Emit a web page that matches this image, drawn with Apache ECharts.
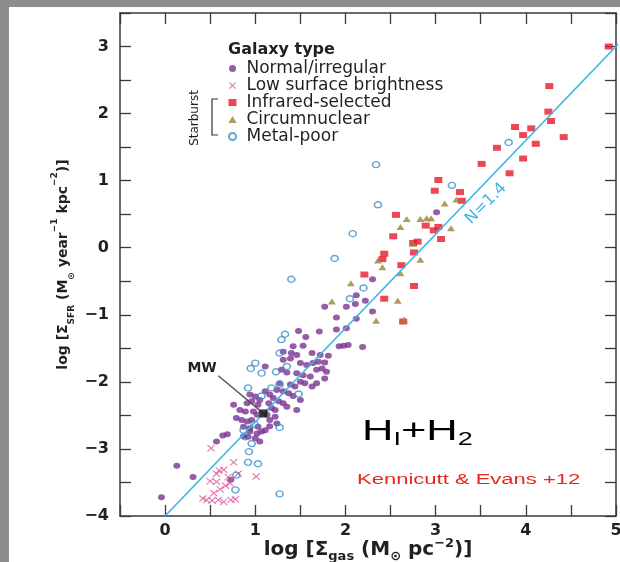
<!DOCTYPE html>
<html><head><meta charset="utf-8">
<script src="https://cdn.jsdelivr.net/npm/echarts@6/dist/echarts.min.js"></script>
<style>
html,body{margin:0;padding:0;width:620px;height:562px;overflow:hidden;background:#8d8d8d;}
#chart{position:absolute;left:9px;top:7px;width:611px;height:555px;background:#fff;}
</style></head><body><div id="chart"></div>
<script>
// ---- data (log Σgas, log ΣSFR) ----
const xTickLabels = ['0','1','2','3','4','5'];
const yTickLabels = ['\u22124','\u22123','\u22122','\u22121','0','1','2','3'];
const normal = [
[-0.04,-3.72],[0.13,-3.25],[0.31,-3.42],[0.57,-2.89],[0.64,-2.80],[0.69,-2.78],[0.73,-3.46],
[1.48,-1.24],[1.56,-1.33],[1.71,-1.25],[1.90,-1.22],[2.01,-1.20],[1.93,-1.47],[1.98,-1.46],[2.03,-1.45],
[1.53,-1.46],[1.42,-1.47],[1.31,-1.55],[1.40,-1.57],[1.46,-1.60],[1.63,-1.57],[1.72,-1.60],[1.81,-1.61],
[1.31,-1.67],[1.39,-1.65],[1.50,-1.72],[1.57,-1.75],[1.64,-1.72],[1.70,-1.70],[1.77,-1.71],[1.68,-1.82],
[1.74,-1.80],[1.79,-1.85],[1.11,-1.77],[1.29,-1.82],[1.35,-1.86],[1.46,-1.87],[1.53,-1.90],[1.61,-1.92],
[1.77,-1.95],[1.50,-2.00],[1.55,-2.02],[1.63,-2.07],[1.39,-2.04],[1.44,-2.07],[1.27,-2.02],[1.24,-2.12],
[1.31,-2.14],[1.37,-2.17],[1.42,-2.21],[1.50,-2.27],[1.11,-2.14],[1.16,-2.19],[1.20,-2.24],[1.26,-2.29],
[1.31,-2.32],[1.35,-2.37],[1.46,-2.42],[0.94,-2.19],[1.00,-2.22],[1.05,-2.27],[0.91,-2.32],[0.96,-2.29],
[1.03,-2.34],[1.15,-2.32],[1.18,-2.39],[1.22,-2.42],[0.76,-2.34],[0.83,-2.42],[0.89,-2.44],[0.98,-2.44],
[1.02,-2.49],[0.79,-2.54],[0.85,-2.57],[0.91,-2.59],[0.96,-2.57],[1.13,-2.49],[1.16,-2.57],[1.22,-2.52],
[1.24,-2.62],[1.16,-2.66],[0.87,-2.67],[0.94,-2.69],[1.03,-2.67],[0.94,-2.74],[1.02,-2.77],[1.07,-2.74],
[1.11,-2.72],[1.00,-2.84],[1.05,-2.89],[0.87,-2.81],[0.92,-2.82],[1.68,-2.02],[2.19,-1.48],
[3.01,0.53],[2.30,-0.47],[2.12,-0.71],[2.22,-0.79],[1.77,-0.88],[2.01,-0.88],[2.11,-0.84],[2.30,-0.95],
[1.90,-1.04],[2.12,-1.06]
];
const lowSurface = [
[0.51,-2.99],[0.76,-3.20],[0.60,-3.32],[0.65,-3.31],[0.57,-3.37],[0.81,-3.37],[1.01,-3.41],[0.57,-3.49],
[0.67,-3.55],[0.72,-3.51],[0.61,-3.60],[0.54,-3.66],[0.42,-3.74],[0.46,-3.76],[0.52,-3.77],[0.59,-3.76],
[0.65,-3.79],[0.73,-3.76],[0.78,-3.75],[0.50,-3.48],[0.70,-3.42]
];
const infrared = [
[4.92,3.0],[4.26,2.41],[4.25,2.03],[4.28,1.89],[4.42,1.65],[3.88,1.80],[4.06,1.78],[3.97,1.68],[4.11,1.55],
[3.68,1.49],[3.97,1.33],[3.51,1.25],[3.82,1.11],[3.03,1.01],[2.99,0.85],[3.27,0.83],[3.29,0.70],[2.56,0.49],
[2.89,0.33],[2.98,0.26],[3.03,0.31],[2.53,0.17],[3.06,0.13],[2.80,0.09],[2.75,0.07],[2.76,-0.07],[2.43,-0.09],
[2.41,-0.17],[2.62,-0.26],[2.21,-0.40],[2.76,-0.57],[2.43,-0.76],[2.64,-1.10]
];
const circumnuclear = [
[3.10,0.66],[3.23,0.72],[2.68,0.43],[2.83,0.43],[2.90,0.44],[2.95,0.44],[2.61,0.31],[3.17,0.29],[2.75,0.06],
[2.83,-0.18],[2.36,-0.19],[2.41,-0.29],[2.61,-0.38],[2.06,-0.53],[1.85,-0.80],[2.58,-0.79],[2.34,-1.09],[2.65,-1.07]
];
const metalPoor = [
[3.81,1.57],[2.34,1.24],[3.18,0.93],[2.36,0.64],[2.08,0.21],[1.88,-0.16],[1.40,-0.47],[2.20,-0.60],[2.05,-0.76],
[1.33,-1.29],[1.29,-1.37],[1.27,-1.57],[1.00,-1.72],[0.95,-1.80],[1.07,-1.87],[1.23,-1.85],[1.35,-1.77],
[0.92,-2.09],[1.18,-2.09],[1.27,-2.04],[1.07,-2.21],[1.48,-2.18],[0.99,-2.63],[1.27,-2.68],[0.87,-2.72],
[0.89,-2.82],[0.96,-2.92],[0.93,-3.04],[0.92,-3.20],[1.03,-3.22],[0.79,-3.39],[0.78,-3.61],[1.27,-3.67]
];
const fitLine = [[0,-4],[5.05,3.07]];
const milkyWay = [[1.09,-2.47]];
const mwPointerFrom = [0.59,-1.91];
const mwLabelAt = [0.41,-1.80];
const fitLabelAt = [3.56,0.66];

// ---- chart ----
const chart = echarts.init(document.getElementById('chart'), null, {renderer:'canvas'});
const TXT = '#231f20';
const FONT = 'DejaVu Sans';
const xPath = 'path://M0,1L1,0L5,4L9,0L10,1L6,5L10,9L9,10L5,6L1,10L0,9L4,5Z';
const intLabel = (arr, lo) => v => { const r = Math.round(v); return Math.abs(v - r) < 1e-6 ? arr[r - lo] : ''; };
const axisCommon = {
  type:'value', splitLine:{show:false},
  axisLine:{show:true, onZero:false, lineStyle:{color:'#3a3a3a', width:1.5}},
  axisTick:{show:true, inside:true, length:11, lineStyle:{color:'#3a3a3a', width:1.3}}
};
const richBase = (fs) => ({
  a:{fontFamily:FONT, fontWeight:'bold', fontSize:fs, color:TXT, lineHeight:26, verticalAlign:'middle'},
  s:{fontFamily:FONT, fontWeight:'bold', fontSize:Math.round(fs*0.66), color:TXT, lineHeight:13, verticalAlign:'bottom'},
  p:{fontFamily:FONT, fontWeight:'bold', fontSize:Math.round(fs*0.66), color:TXT, lineHeight:13, verticalAlign:'top'}
});

chart.setOption({
  animation:false,
  grid:{left:111, top:6, right:4, bottom:46, containLabel:false, outerBoundsMode:'none'},
  legend:{
    data:['Normal/irregular','Low surface brightness','Infrared-selected','Circumnuclear','Metal-poor'],
    orient:'vertical', left:219, top:53, padding:0, itemGap:0, itemWidth:8, itemHeight:7,
    selectedMode:false,
    textStyle:{fontFamily:FONT, fontSize:17, color:TXT, lineHeight:16.3, padding:[0,0,0,5]}
  },
  xAxis:[
    Object.assign({}, axisCommon, {min:-0.5, max:5, interval:0.5, position:'bottom',
      axisLabel:{formatter:intLabel(xTickLabels,0), margin:7, fontFamily:FONT, fontWeight:'bold', fontSize:16, color:TXT, showMinLabel:true, showMaxLabel:true},
      name:'{a|log [\u03A3}{s|gas}{a| (M}{s|\u2299}{a| pc}{p|\u22122}{a|)]}', nameLocation:'middle', nameGap:21, nameMoveOverlap:false,
      nameTextStyle:{rich:richBase(20)}}),
    Object.assign({}, axisCommon, {min:-0.5, max:5, interval:0.5, position:'top', axisLabel:{show:false}})
  ],
  yAxis:[
    Object.assign({}, axisCommon, {min:-4, max:3.5, interval:0.5, position:'left',
      axisLabel:{formatter:intLabel(yTickLabels,-4), margin:11, fontFamily:FONT, fontWeight:'bold', fontSize:16, color:TXT},
      name:'{a|log [\u03A3}{s|SFR}{a| (M}{s|\u2299}{a| year}{p|\u22121}{a| kpc}{p|\u22122}{a|)]}', nameLocation:'middle', nameGap:44, nameMoveOverlap:false,
      nameTextStyle:{rich:richBase(14)}}),
    Object.assign({}, axisCommon, {min:-4, max:3.5, interval:0.5, position:'right', axisLabel:{show:false}})
  ],
  series:[
    {name:'Normal/irregular', type:'scatter', data:normal, symbol:'circle', symbolSize:[7,6],
      itemStyle:{color:'#7b3391'}, z:2},
    {name:'Low surface brightness', type:'scatter', data:lowSurface, symbol:xPath, symbolSize:[8,7],
      itemStyle:{color:'#dc4f98'}, z:2},
    {name:'Infrared-selected', type:'scatter', data:infrared, symbol:'rect', symbolSize:[8,6],
      itemStyle:{color:'#e8192c'}, z:2},
    {name:'Circumnuclear', type:'scatter', data:circumnuclear, symbol:'triangle', symbolSize:[8,6],
      itemStyle:{color:'#9b8538'}, z:2},
    {name:'Metal-poor', type:'scatter', data:metalPoor, symbol:'circle', symbolSize:[7,6],
      itemStyle:{color:'rgba(255,255,255,0)', borderColor:'#3d8fc6', borderWidth:1.5}, z:3},
    {name:'fit', type:'line', data:fitLine, symbol:'none', lineStyle:{color:'#3cb5e3', width:1.6}, z:4, silent:true},
    {name:'mwPointer', type:'line', data:[mwPointerFrom, milkyWay[0]], symbol:'none', lineStyle:{color:'#555', width:1.4}, z:5, silent:true},
    {name:'MW', type:'scatter', data:milkyWay, symbol:'rect', symbolSize:[9,8],
      itemStyle:{color:'#111', borderColor:'#888', borderWidth:1}, z:6}
  ]
});

const fitPx = chart.convertToPixel({gridIndex:0}, fitLabelAt);
const mwPx = chart.convertToPixel({gridIndex:0}, mwLabelAt);
chart.setOption({
  graphic:[
    {type:'text', left:219, top:35, style:{text:'Galaxy type', font:'bold 16px "DejaVu Sans"', fill:TXT}},
    {type:'text', x:186, y:111, rotation:Math.PI/2, style:{text:'Starburst', font:'12px "DejaVu Sans"', fill:TXT, align:'center', verticalAlign:'middle'}},
    {type:'polyline', shape:{points:[[209,92],[203,92],[203,128],[209,128]]}, style:{stroke:'#333', lineWidth:1.2, fill:null}},
    {type:'text', x:fitPx[0], y:fitPx[1], rotation:Math.PI/4, style:{text:'N=1.4', font:'16px "DejaVu Sans"', fill:'#3cb5e3', align:'center', verticalAlign:'middle'}},
    {type:'text', x:mwPx[0], y:mwPx[1], style:{text:'MW', font:'bold 14px "DejaVu Sans"', fill:TXT, align:'center', verticalAlign:'middle'}},
    {type:'text', x:353, y:425, scaleX:1.5, style:{text:'{h|H}{s|I}{h|+H}{s|2}', fill:'#000', verticalAlign:'middle',
      rich:{h:{font:'29px "Liberation Sans"', fill:'#000', lineHeight:34, verticalAlign:'middle'}, s:{font:'18px "Liberation Sans"', fill:'#000', lineHeight:16, verticalAlign:'bottom'}}}},
    {type:'text', x:348, y:473, scaleX:1.42, style:{text:'Kennicutt & Evans +12', font:'15.5px "Liberation Sans"', fill:'#e8261e', verticalAlign:'middle'}}
  ]
});
</script></body></html>
